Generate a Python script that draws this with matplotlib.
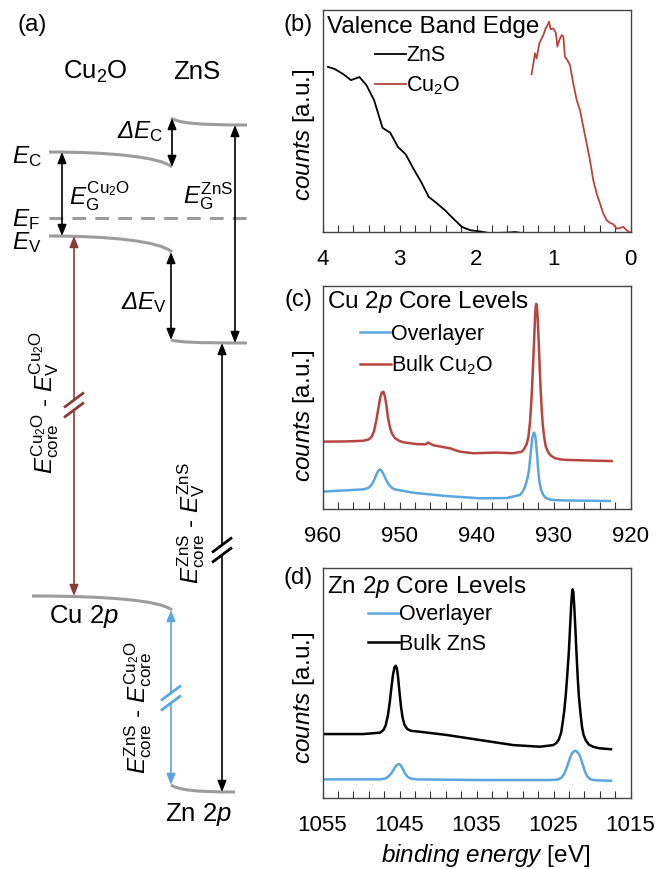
import numpy as np
import matplotlib
matplotlib.use("Agg")
import matplotlib.pyplot as plt
from matplotlib.path import Path
from matplotlib.patches import PathPatch

plt.rcParams['font.family'] = ['Liberation Sans', 'DejaVu Sans']
plt.rcParams['mathtext.fontset'] = 'custom'
plt.rcParams['mathtext.rm'] = 'Liberation Sans'
plt.rcParams['mathtext.it'] = 'Liberation Sans:italic'
plt.rcParams['mathtext.bf'] = 'Liberation Sans:bold'

RED = '#b5463f'
BLUE = '#5ba6de'
DARKRED = '#8c3a36'
GREY = '#9c9c9c'

# ---- (b) valence band edge, binding energy [eV] vs normalised counts
vb_zns_be = [3.93, 3.84, 3.73, 3.63, 3.52, 3.43, 3.33, 3.22, 3.12, 3.02, 2.92, 2.82,
             2.72, 2.62, 2.52, 2.41, 2.30, 2.19, 2.08, 1.96, 1.83, 1.61, 1.50, 1.41]
vb_zns_counts = [0.744, 0.734, 0.711, 0.684, 0.698, 0.662, 0.594, 0.469, 0.447, 0.383, 0.350, 0.286,
                 0.226, 0.158, 0.131, 0.098, 0.060, 0.023, 0.008, 0.003, -0.005, -0.003, 0.0, -0.005]
vb_cu2o_be = [1.284, 1.240, 1.219, 1.184, 1.154, 1.132, 1.102, 1.076, 1.058, 1.037, 1.002, 0.968,
              0.950, 0.924, 0.894, 0.872, 0.851, 0.820, 0.786, 0.743, 0.699, 0.656, 0.613, 0.569,
              0.526, 0.483, 0.439, 0.396, 0.353, 0.309, 0.266, 0.223, 0.180, 0.136, 0.093, 0.050, 0.015]
vb_cu2o_counts = [0.711, 0.805, 0.782, 0.850, 0.872, 0.887, 0.917, 0.932, 0.947, 0.913, 0.917, 0.895,
                  0.835, 0.865, 0.887, 0.880, 0.789, 0.774, 0.752, 0.669, 0.594, 0.549, 0.474, 0.398,
                  0.323, 0.233, 0.173, 0.128, 0.083, 0.053, 0.041, 0.035, 0.015, 0.018, 0.023, 0.008, 0.0]
vb_ticks = [4, 3, 2, 1, 0]

# ---- (c) Cu 2p core levels
cu_bulk_be = [959.90, 956.86, 954.70, 954.00, 953.60, 953.30, 953.00, 952.75, 952.50, 952.30,
              952.10, 951.90, 951.70, 951.50, 951.23, 951.00, 950.60, 950.00, 949.51, 947.77,
              946.60, 946.26, 945.90, 945.61, 943.44, 942.14, 940.42, 937.38, 935.22, 934.13,
              933.80, 933.50, 933.27, 933.05, 932.90, 932.79, 932.65, 932.50, 932.40, 932.30,
              932.23, 932.15, 932.05, 931.92, 931.80, 931.66, 931.52, 931.40, 931.20, 931.00,
              930.70, 930.30, 929.80, 929.00, 928.29, 925.00, 922.44]
cu_bulk_counts = [0.302, 0.303, 0.306, 0.312, 0.325, 0.350, 0.400, 0.450, 0.500, 0.522,
                  0.526, 0.505, 0.465, 0.410, 0.365, 0.340, 0.318, 0.305, 0.299, 0.291,
                  0.290, 0.298, 0.291, 0.286, 0.272, 0.257, 0.250, 0.253, 0.250, 0.257,
                  0.270, 0.290, 0.320, 0.390, 0.470, 0.540, 0.650, 0.770, 0.860, 0.910,
                  0.920, 0.905, 0.850, 0.750, 0.640, 0.530, 0.440, 0.380, 0.320, 0.280,
                  0.255, 0.238, 0.228, 0.222, 0.220, 0.217, 0.215]
cu_over_be = [959.90, 954.70, 954.00, 953.60, 953.30, 953.00, 952.75, 952.55, 952.35, 952.10,
              951.80, 951.45, 951.00, 950.60, 948.21, 943.87, 939.55, 936.08, 934.35, 934.00,
              933.70, 933.40, 933.18, 933.00, 932.88, 932.75, 932.60, 932.50, 932.38, 932.25,
              932.10, 931.98, 931.84, 931.60, 931.32, 931.00, 930.50, 930.00, 928.00, 922.66]
cu_over_counts = [0.078, 0.088, 0.095, 0.110, 0.130, 0.155, 0.172, 0.178, 0.172, 0.158,
                  0.135, 0.112, 0.095, 0.088, 0.073, 0.058, 0.048, 0.049, 0.063, 0.078,
                  0.100, 0.135, 0.175, 0.235, 0.280, 0.320, 0.340, 0.342, 0.330, 0.290,
                  0.230, 0.170, 0.125, 0.085, 0.062, 0.050, 0.043, 0.040, 0.038, 0.036]
cu_ticks = [960, 950, 940, 930, 920]

# ---- (d) Zn 2p core levels
zn_bulk_be = [1054.9, 1049.70, 1047.53, 1047.10, 1046.80, 1046.50, 1046.25, 1046.05, 1045.85,
              1045.65, 1045.49, 1045.35, 1045.20, 1045.00, 1044.80, 1044.60, 1044.35, 1044.00,
              1043.50, 1042.34, 1038.87, 1034.55, 1030.22, 1026.75, 1025.03, 1024.60, 1024.30,
              1024.00, 1023.80, 1023.60, 1023.40, 1023.20, 1023.00, 1022.85, 1022.70, 1022.58,
              1022.51, 1022.42, 1022.30, 1022.15, 1022.00, 1021.85, 1021.70, 1021.50, 1021.30,
              1021.10, 1020.80, 1020.40, 1019.80, 1019.00, 1017.53]
zn_bulk_counts = [0.278, 0.278, 0.284, 0.295, 0.315, 0.360, 0.420, 0.480, 0.535,
                  0.568, 0.575, 0.565, 0.530, 0.460, 0.395, 0.350, 0.318, 0.300,
                  0.292, 0.288, 0.274, 0.252, 0.230, 0.223, 0.230, 0.240, 0.255,
                  0.285, 0.330, 0.380, 0.450, 0.540, 0.640, 0.740, 0.840, 0.895,
                  0.907, 0.895, 0.830, 0.730, 0.620, 0.520, 0.440, 0.370, 0.310,
                  0.275, 0.250, 0.232, 0.222, 0.216, 0.212]
zn_over_be = [1054.9, 1047.53, 1046.80, 1046.40, 1046.00, 1045.70, 1045.40, 1045.10, 1044.85,
              1044.60, 1044.30, 1044.00, 1043.60, 1042.77, 1034.55, 1025.45, 1024.50, 1024.00,
              1023.60, 1023.30, 1023.00, 1022.70, 1022.40, 1022.10, 1021.80, 1021.50, 1021.20,
              1020.90, 1020.60, 1020.20, 1019.50, 1017.53]
zn_over_counts = [0.081, 0.081, 0.085, 0.095, 0.110, 0.127, 0.142, 0.148, 0.143,
                  0.128, 0.108, 0.094, 0.085, 0.081, 0.078, 0.078, 0.080, 0.087,
                  0.105, 0.130, 0.160, 0.188, 0.202, 0.205, 0.196, 0.178, 0.145,
                  0.113, 0.093, 0.081, 0.077, 0.075]
zn_ticks = [1055, 1045, 1035, 1025, 1015]

# ---- (a) band diagram, positions in figure pixels (y downwards)
interface_x = 172
cu2o_start = [49, 49, 32]          # E_C, E_V, Cu 2p
cu2o_levels = [152, 236, 596]
cu2o_bend = [15, 16, 14]
zns_end = [247, 247, 235]          # E_C, E_V, Zn 2p
zns_levels = [125, 343, 792]
zns_bend = [7, 3, 7]
fermi_y = 218

fig = plt.figure(figsize=(6.67, 8.69), dpi=100)

# ---------------- panel (a)
ax = fig.add_axes([0, 0, 300 / 667, 1])
ax.set_xlim(0, 300)
ax.set_ylim(869, 0)
ax.axis('off')

for x0, y, d in zip(cu2o_start, cu2o_levels, cu2o_bend):
    p = Path([(x0, y), (110, y), (160, y + 0.33 * d), (interface_x, y + d)],
             [Path.MOVETO, Path.CURVE4, Path.CURVE4, Path.CURVE4])
    ax.add_patch(PathPatch(p, fill=False, edgecolor=GREY, lw=2.2))
for x1, y, d in zip(zns_end, zns_levels, zns_bend):
    xs = interface_x - 1
    p = Path([(xs, y - d), (179, y - 0.3 * d), (195, y), (x1, y)],
             [Path.MOVETO, Path.CURVE4, Path.CURVE4, Path.CURVE4])
    ax.add_patch(PathPatch(p, fill=False, edgecolor=GREY, lw=2.2))
ax.plot([cu2o_start[0], zns_end[0]], [fermi_y, fermi_y], color=GREY, lw=2.2,
        dashes=(4.5, 3))


def double_arrow(x, y0, y1, color='black'):
    ax.annotate('', xy=(x, y1), xytext=(x, y0),
                arrowprops=dict(arrowstyle='<|-|>,head_length=0.55,head_width=0.22',
                                color=color, lw=1.2, shrinkA=0, shrinkB=0,
                                mutation_scale=12))


def break_mark(x, y, color):
    ax.plot([x, x], [y - 4, y + 4], color='white', lw=3, zorder=3)
    for dy in (-5, 5):
        ax.plot([x - 10, x + 10], [y + dy + 7.5, y + dy - 7.5], color=color,
                lw=2.0, zorder=4, solid_capstyle='butt')


double_arrow(62, cu2o_levels[0], cu2o_levels[1])
double_arrow(interface_x, zns_levels[0] - zns_bend[0], cu2o_levels[0] + cu2o_bend[0])
double_arrow(235, zns_levels[0], zns_levels[1])
double_arrow(interface_x - 1, cu2o_levels[1] + cu2o_bend[1], zns_levels[1] - zns_bend[1])
double_arrow(74, cu2o_levels[1], cu2o_levels[2], DARKRED)
double_arrow(222, zns_levels[1], zns_levels[2])
double_arrow(interface_x - 1, cu2o_levels[2] + cu2o_bend[2], zns_levels[2] - zns_bend[2], BLUE)
break_mark(74, 405, DARKRED)
break_mark(222, 550, 'black')
break_mark(171, 698, BLUE)

fs = 17.5
ax.text(32, 25, '(a)', fontsize=17.5, ha='center', va='center')
ax.text(95, 72, r'Cu$_\mathrm{2}$O', fontsize=18.5, ha='center', va='center')
ax.text(197, 72, 'ZnS', fontsize=18.5, ha='center', va='center')
ax.text(164, 132, r'Δ$E_\mathrm{C}$', fontsize=fs, ha='right', va='center', style='italic')
ax.text(12, 157, r'$E_\mathrm{C}$', fontsize=fs, ha='left', va='center')
ax.text(69, 196, r'$E_\mathrm{G}^\mathrm{Cu_2O}$', fontsize=fs, ha='left', va='center')
ax.text(183, 196, r'$E_\mathrm{G}^\mathrm{ZnS}$', fontsize=fs, ha='left', va='center')
ax.text(12, 220, r'$E_\mathrm{F}$', fontsize=fs, ha='left', va='center')
ax.text(12, 243, r'$E_\mathrm{V}$', fontsize=fs, ha='left', va='center')
ax.text(167, 303, r'Δ$E_\mathrm{V}$', fontsize=fs, ha='right', va='center', style='italic')
ax.text(44, 402, r'$E_\mathrm{core}^\mathrm{Cu_2O}$ - $E_\mathrm{V}^\mathrm{Cu_2O}$',
        fontsize=fs, ha='center', va='center', rotation=90)
ax.text(191, 523, r'$E_\mathrm{core}^\mathrm{ZnS}$ - $E_\mathrm{V}^\mathrm{ZnS}$',
        fontsize=fs, ha='center', va='center', rotation=90)
ax.text(138, 708, r'$E_\mathrm{core}^\mathrm{ZnS}$ - $E_\mathrm{core}^\mathrm{Cu_2O}$',
        fontsize=fs, ha='center', va='center', rotation=90)
ax.text(84, 617, r'Cu 2$p$', fontsize=18.5, ha='center', va='center')
ax.text(199, 815, r'Zn 2$p$', fontsize=18.5, ha='center', va='center')


# ---------------- panels (b)-(d)
def spectrum_axes(top, bottom, xlim, ticks, minor_step):
    W, H = 667.0, 869.0
    a = fig.add_axes([322.5 / W, (H - bottom) / H, 308 / W, (bottom - top) / H])
    a.set_xlim(*xlim)
    a.set_ylim(0, 1)
    a.set_xticks(ticks)
    a.set_xticklabels([str(t) for t in ticks])
    a.set_xticks(np.arange(min(xlim), max(xlim) + 1e-6, minor_step), minor=True)
    a.set_yticks([])
    a.tick_params(axis='x', which='both', direction='in', length=5, width=0.8,
                  color='#333333', labelsize=16, pad=12.5)
    for s in a.spines.values():
        s.set_linewidth(1.0)
        s.set_color('#444444')
    a.set_ylabel(r'$counts$ [a.u.]', fontsize=17.5)
    return a


leg_kw = dict(loc='upper left', frameon=False, fontsize=15.5, handlelength=1.45,
              handletextpad=0.0, labelspacing=0.40, borderpad=0, borderaxespad=0)

axb = spectrum_axes(10, 232, (4, 0), vb_ticks, 0.2)
axb.plot(vb_zns_be, vb_zns_counts, color='black', lw=1.3, label='ZnS')
axb.plot(vb_cu2o_be, vb_cu2o_counts, color=RED, lw=1.3, label=r'Cu$_\mathrm{2}$O')
axb.text(0.015, 0.895, 'Valence Band Edge', transform=axb.transAxes, fontsize=17.5,
         va='baseline', ha='left')
axb.legend(bbox_to_anchor=(0.17, 0.842), **leg_kw)
axb.yaxis.set_label_coords(-0.018, 0.437)

axc = spectrum_axes(286, 509, (960, 920), cu_ticks, 2)
axc.plot(cu_over_be, cu_over_counts, color=BLUE, lw=1.8, label='Overlayer')
axc.plot(cu_bulk_be, cu_bulk_counts, color=RED, lw=1.8, label=r'Bulk Cu$_\mathrm{2}$O')
axc.text(0.0136, 0.900, r'Cu 2$p$ Core Levels', transform=axc.transAxes, fontsize=17.5,
         va='baseline', ha='left')
axc.legend(bbox_to_anchor=(0.122, 0.83), **leg_kw)
axc.yaxis.set_label_coords(-0.018, 0.42)

axd = spectrum_axes(568, 798, (1055, 1015), zn_ticks, 2)
axd.plot(zn_over_be, zn_over_counts, color=BLUE, lw=1.8, label='Overlayer')
axd.plot(zn_bulk_be, zn_bulk_counts, color='black', lw=1.8, label='Bulk ZnS')
axd.text(0.0136, 0.893, r'Zn 2$p$ Core Levels', transform=axd.transAxes, fontsize=17.5,
         va='baseline', ha='left')
axd.legend(bbox_to_anchor=(0.148, 0.843), **leg_kw)
axd.yaxis.set_label_coords(-0.018, 0.437)
axd.set_xlabel(r'$\mathit{binding\ energy}$ [eV]', fontsize=17.5)
axd.xaxis.set_label_coords(0.528, -0.19)

fig.text(298 / 667, 1 - 25 / 869, '(b)', fontsize=17, ha='center', va='center')
fig.text(298 / 667, 1 - 300 / 869, '(c)', fontsize=17, ha='center', va='center')
fig.text(298 / 667, 1 - 578 / 869, '(d)', fontsize=17, ha='center', va='center')

fig.savefig('out.png', dpi=100)
